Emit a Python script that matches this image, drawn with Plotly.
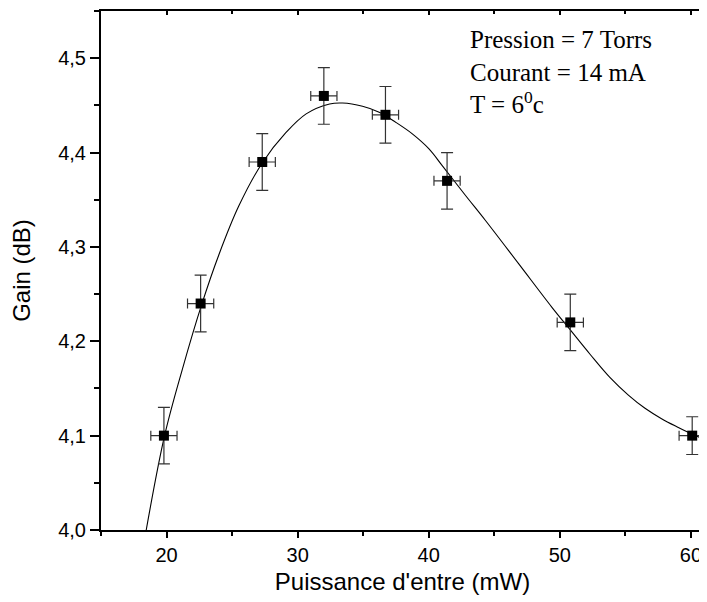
import plotly.graph_objects as go

# Measured data
power = [19.8, 22.6, 27.3, 32.0, 36.7, 41.4, 50.8, 60.1]
gain = [4.10, 4.24, 4.39, 4.46, 4.44, 4.37, 4.22, 4.10]
gain_err = [0.03, 0.03, 0.03, 0.03, 0.03, 0.03, 0.03, 0.02]
power_err = [1.0, 1.0, 1.0, 1.0, 1.0, 1.0, 1.0, 1.0]

# Fitted curve
fit_x = [18.45, 19.85, 21.2, 22.66, 24.0, 25.5, 27.3, 29.1, 30.65, 32.44, 33.43,
         34.95, 36.22, 37.49, 38.75, 40.02, 41.03, 42.81, 44.33, 46.87, 49.4,
         50.8, 52.32, 53.8, 55.23, 56.5, 57.76, 59.0, 60.04, 61.0]
fit_y = [4.0, 4.10, 4.170, 4.238, 4.292, 4.343, 4.389, 4.421, 4.441, 4.4515, 4.4525,
         4.449, 4.4427, 4.432, 4.4198, 4.4039, 4.3862, 4.3545, 4.328, 4.282, 4.236,
         4.212, 4.186, 4.162, 4.143, 4.129, 4.118, 4.109, 4.102, 4.096]

x_ticks = [20, 30, 40, 50, 60]
y_ticks = [4.0, 4.1, 4.2, 4.3, 4.4, 4.5]
x_range = [15, 61]
y_range = [4.0, 4.55]

annotation_text = "Pression = 7 Torrs<br>Courant = 14 mA<br>T = 6<sup>0</sup>c"

fig = go.Figure()
fig.add_trace(go.Scatter(
    x=fit_x, y=fit_y, mode="lines", line=dict(color="black", width=1.1, shape="spline"),
    showlegend=False, hoverinfo="skip"))
fig.add_trace(go.Scatter(
    x=power, y=gain, mode="markers",
    marker=dict(symbol="square", size=10, color="black"),
    error_y=dict(type="data", array=gain_err, color="#333333", thickness=1.2, width=6),
    error_x=dict(type="data", array=power_err, color="#333333", thickness=1.2, width=5),
    showlegend=False))
# invisible trace to bring the mirrored (top/right) axes with inner ticks to life
fig.add_trace(go.Scatter(
    x=[], y=[], xaxis="x2", yaxis="y2", mode="markers", showlegend=False, hoverinfo="skip"))

fig.add_annotation(
    x=0.608, y=0.975, xref="paper", yref="paper", xanchor="left", yanchor="top",
    text=annotation_text, showarrow=False, align="left",
    font=dict(family="Liberation Serif, Times New Roman, serif", size=25, color="black"))

axis_font = dict(family="Liberation Sans, Arial, sans-serif", size=20, color="black")
title_font = dict(family="Liberation Sans, Arial, sans-serif", size=24, color="black")

fig.update_layout(
    width=699, height=594,
    margin=dict(l=93, r=1, t=3, b=72),
    paper_bgcolor="white", plot_bgcolor="white",
    separators=",.",
    xaxis=dict(
        range=x_range, tickvals=x_ticks, ticks="outside", ticklen=6, tickwidth=2,
        tickcolor="black", showline=True, linewidth=2, linecolor="black", mirror=True,
        showgrid=False, zeroline=False, tickfont=axis_font,
        minor=dict(dtick=5, tick0=0, ticks="outside", ticklen=4, tickwidth=2,
                   tickcolor="black", showgrid=False),
        title=dict(text="Puissance d'entre (mW)", font=title_font, standoff=8)),
    yaxis=dict(
        range=y_range, tickvals=y_ticks, tickformat=".1f", ticks="outside",
        ticklen=9, tickwidth=2, tickcolor="black", showline=True, linewidth=2,
        linecolor="black", mirror=True, showgrid=False, zeroline=False,
        tickfont=axis_font,
        minor=dict(dtick=0.05, tick0=0, ticks="outside", ticklen=5, tickwidth=2,
                   tickcolor="black", showgrid=False),
        title=dict(text="Gain (dB)", font=title_font, standoff=22)),
    xaxis2=dict(
        overlaying="x", side="top", anchor="y2", range=x_range, tickvals=x_ticks,
        ticks="inside", ticklen=4, tickwidth=1.5, tickcolor="black",
        showticklabels=False, showgrid=False, zeroline=False, showline=False,
        minor=dict(dtick=5, tick0=0, ticks="inside", ticklen=3, tickwidth=1.5,
                   tickcolor="black", showgrid=False)),
    yaxis2=dict(
        overlaying="y", side="right", anchor="x2", range=y_range, tickvals=y_ticks,
        ticks="inside", ticklen=4, tickwidth=1.5, tickcolor="black",
        showticklabels=False, showgrid=False, zeroline=False, showline=False,
        minor=dict(dtick=0.05, tick0=0, ticks="inside", ticklen=3, tickwidth=1.5,
                   tickcolor="black", showgrid=False)),
)

fig.write_html("out.html")
